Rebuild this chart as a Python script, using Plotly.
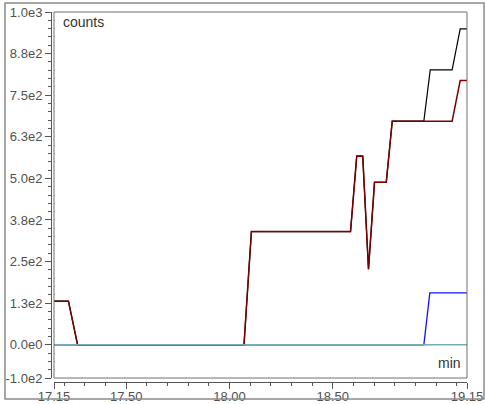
import plotly.graph_objects as go

# ---- data ----
t_main = [17.15, 17.22, 17.264, 18.07, 18.106, 18.586, 18.616, 18.645, 18.673, 18.702,
          18.759, 18.788, 18.941, 18.972, 19.078, 19.117, 19.15]
black_counts = [131, 131, 0, 0, 340, 340, 567, 567, 227, 488,
                488, 672, 672, 826, 826, 949, 949]
red_counts = [131, 131, 0, 0, 340, 340, 567, 567, 227, 488,
              488, 672, 672, 672, 672, 794, 794]
t_blue = [17.15, 18.941, 18.970, 19.15]
blue_counts = [0, 0, 156, 156]
t_zero = [17.15, 19.15]
zero_counts = [0, 0]

y_tickvals = [1000, 875, 750, 625, 500, 375, 250, 125, 0, -100]
y_ticktext = ["1.0e3", "8.8e2", "7.5e2", "6.3e2", "5.0e2", "3.8e2", "2.5e2", "1.3e2", "0.0e0", "-1.0e2"]
x_tickvals = [17.15, 17.5, 18.0, 18.5, 19.15]
x_ticktext = ["17.15", "17.50", "18.00", "18.50", "19.15"]

W, H = 485, 404
L, R, T, B = 51, 18, 12, 22
pw, ph = W - L - R, H - T - B

def px(x):
    return (x - L) / pw

def py(y):
    return (H - B - y) / ph

fig = go.Figure()
fig.add_trace(go.Scatter(x=t_main, y=black_counts, mode="lines",
                         line=dict(color="#000000", width=1.2)))
fig.add_trace(go.Scatter(x=t_main, y=red_counts, mode="lines",
                         line=dict(color="#7a0000", width=1.5)))
fig.add_trace(go.Scatter(x=t_blue, y=blue_counts, mode="lines",
                         line=dict(color="#1010ff", width=1.3)))
fig.add_trace(go.Scatter(x=t_zero, y=zero_counts, mode="lines",
                         line=dict(color="#7aaab8", width=1.5)))
# label-only axis carrier (no visible marks)
fig.add_trace(go.Scatter(x=t_zero, y=zero_counts, mode="lines", xaxis="x2",
                         line=dict(color="rgba(0,0,0,0)", width=0), hoverinfo="skip"))

FONT = "Liberation Sans, Arial, sans-serif"
tickfont = dict(family=FONT, size=13, color="#505050")
xdom = [px(54), 1]

fig.update_layout(
    template="none",
    width=W, height=H,
    margin=dict(l=L, r=R, t=T, b=B, pad=0, autoexpand=False),
    paper_bgcolor="white", plot_bgcolor="white",
    showlegend=False,
    xaxis=dict(domain=xdom, range=[17.15, 19.15], anchor="free", position=0,
               automargin=False,
               showgrid=False, zeroline=False, showline=True, linecolor="#555555", linewidth=1,
               ticks="outside", ticklen=6, tickcolor="#555555", tickwidth=1,
               showticklabels=False, tickvals=x_tickvals,
               minor=dict(dtick=0.1, tick0=17.0, ticks="outside", ticklen=3,
                          tickcolor="#555555", showgrid=False)),
    xaxis2=dict(domain=xdom, range=[17.15, 19.15], anchor="free", position=py(378),
                overlaying="x", automargin=False,
                showgrid=False, zeroline=False, showline=False,
                ticks="outside", ticklen=6, tickcolor="rgba(0,0,0,0)",
                tickvals=x_tickvals, ticktext=x_ticktext, tickfont=tickfont),
    yaxis=dict(domain=[py(378), 1], range=[-100, 1000], anchor="free", position=0,
               automargin=False,
               showgrid=False, zeroline=False, showline=True, linecolor="#555555", linewidth=1,
               ticks="outside", ticklen=6, tickcolor="#555555", tickwidth=1,
               tickvals=y_tickvals, ticktext=y_ticktext, tickfont=tickfont,
               minor=dict(dtick=25, tick0=0, ticks="outside", ticklen=3,
                          tickcolor="#555555", showgrid=False)),
    shapes=[
        dict(type="rect", xref="paper", yref="paper", x0=px(54), x1=1, y0=py(378), y1=1,
             line=dict(color="#707070", width=1), layer="above"),
        dict(type="rect", xref="paper", yref="paper", x0=px(5), x1=px(484), y0=py(399), y1=py(3),
             line=dict(color="#8a8a8a", width=1.5), layer="above"),
    ],
    annotations=[
        dict(text="counts", xref="paper", yref="paper", x=px(61), y=py(22),
             xanchor="left", yanchor="middle", showarrow=False,
             font=dict(family=FONT, size=14, color="#333333")),
        dict(text="min", xref="paper", yref="paper", x=px(463), y=py(363),
             xanchor="right", yanchor="middle", showarrow=False,
             font=dict(family=FONT, size=14, color="#333333")),
    ],
)

fig.write_html(
    "out.html",
    config={"displayModeBar": False},
    post_script="document.body.style.margin='0';document.body.style.overflow='hidden';",
)
